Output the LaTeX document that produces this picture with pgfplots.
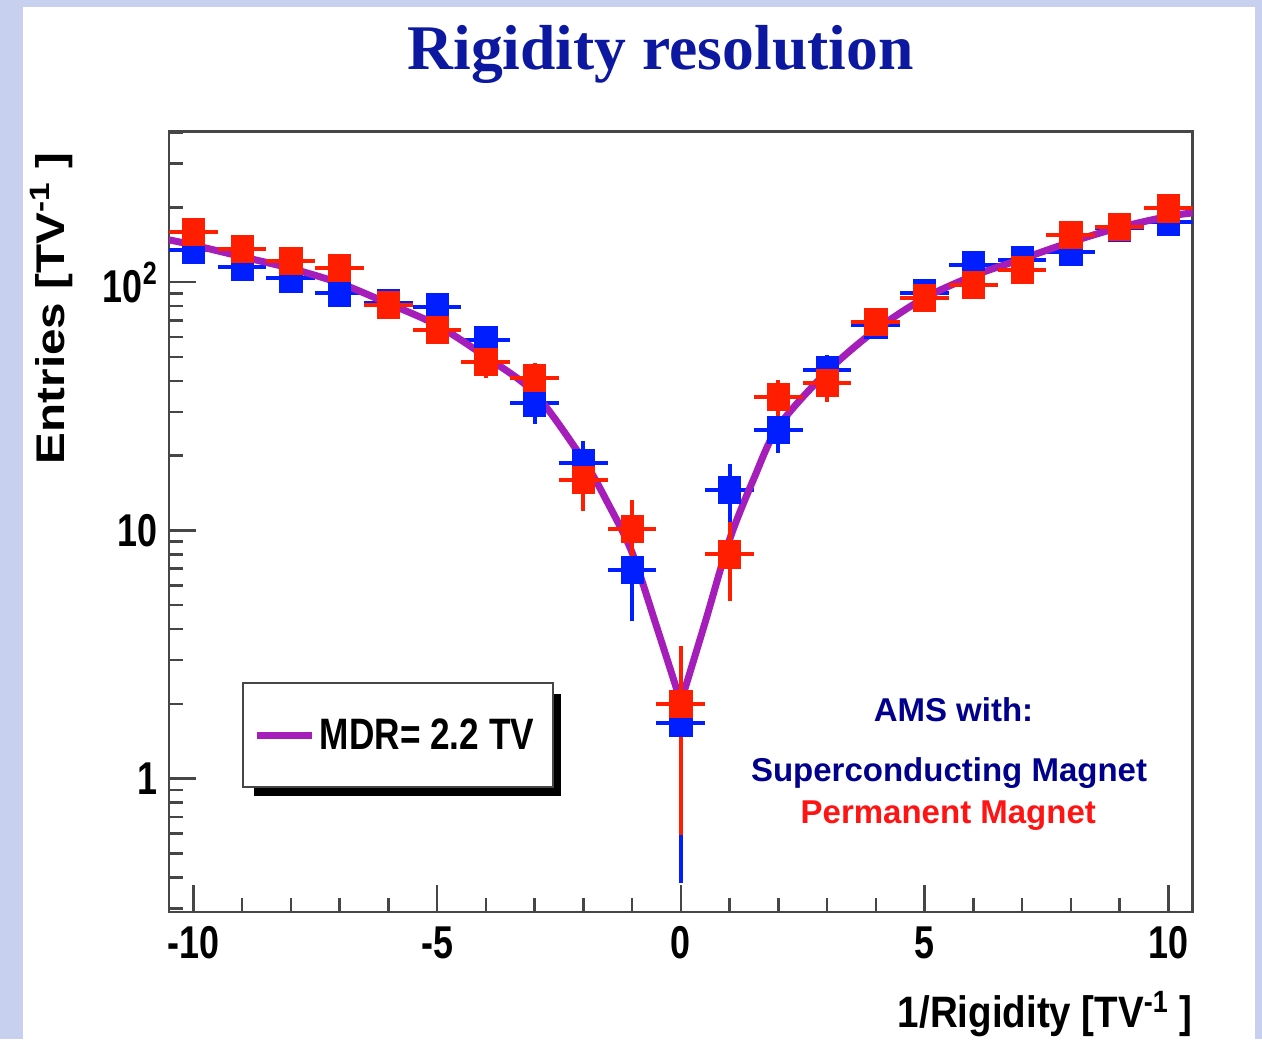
\documentclass[border=0pt]{standalone}
\usepackage{fontspec}
\setmainfont{Liberation Sans}
\newfontfamily\seriffont{Liberation Serif}
\usepackage{graphicx}
\usepackage{pgfplots}
\usepackage{pgfplotstable}
\pgfplotsset{compat=1.18}
\definecolor{bgblue}{RGB}{200,208,240}
\definecolor{titleblue}{RGB}{12,24,160}
\definecolor{amsblue}{RGB}{0,0,140}
\definecolor{amsred}{RGB}{255,20,20}
\definecolor{dblue}{RGB}{0,30,255}
\definecolor{dred}{RGB}{255,30,0}
\definecolor{fitpurple}{RGB}{165,30,185}
\definecolor{axgray}{RGB}{70,70,70}
\newcommand{\tl}[1]{\scalebox{0.78}[1]{\fontsize{23pt}{23pt}\selectfont\bfseries #1}}

\pgfplotstableread{
x y e
-10 134.6 11.6
-9 115.3 10.7
-8 103.5 10.2
-7 90.2 9.5
-6 82 9.1
-5 79.6 8.9
-4 58.5 7.6
-3 32.5 5.7
-2 18.7 4.3
-1 6.95 2.64
0 1.68 1.3
1 14.6 3.82
2 25.4 5.0
3 44.3 6.7
4 67 8.2
5 90 9.5
6 117 10.8
7 122.7 11.1
8 132.5 11.5
9 165 12.8
10 175 13.2
}\bluedata

\pgfplotstableread{
x y e
-10 159 12.6
-9 136 11.7
-8 122 11.0
-7 114 10.7
-6 81 9.0
-5 64.2 8.0
-4 47.8 6.9
-3 41.0 6.4
-2 16.0 4.0
-1 10.1 3.2
0 2.0 1.41
1 8.0 2.83
2 34.6 5.9
3 39.2 6.3
4 69.3 8.3
5 86.5 9.3
6 97.3 9.9
7 112 10.6
8 155 12.4
9 167 12.9
10 198 14.1
}\reddata

\begin{document}
\begin{tikzpicture}
\begin{scope}[x=0.5pt,y=-0.5pt]
\fill[bgblue] (0,0) rectangle (1262,1039);
\fill[white] (22.7,7.3) rectangle (1255,1039);
% legend frame with ROOT-style shadow
\fill[black] (254,694) rectangle (560.5,796);
\filldraw[fill=white, draw=axgray, line width=1pt] (243.3,683.3) rectangle (552.7,786.7);
\end{scope}
\begin{axis}[
  at={(84.5pt,-456pt)}, anchor=south west,
  scale only axis, width=511.85pt, height=390.35pt,
  ymode=log, xmin=-10.5, xmax=10.5, ymin=0.29, ymax=405,
  axis line style={axgray, line width=1.3pt},
  tick style={axgray, line width=1.3pt},
  tick align=inside, xtick pos=left, ytick pos=left,
  major tick length=13.5pt, minor tick length=7pt,
  xtick={-10,-5,0,5,10},
  xticklabels={\tl{-10},\tl{-5},\tl{0},\tl{5},\tl{10}},
  minor xtick={-9,-8,-7,-6,-4,-3,-2,-1,1,2,3,4,6,7,8,9},
  ytick={1,10,100},
  yticklabels={\tl{1},\tl{10},\tl{10\textsuperscript{2}}},
  minor ytick={0.3,0.4,0.5,0.6,0.7,0.8,0.9,2,3,4,5,6,7,8,9,20,30,40,50,60,70,80,90,200,300,400},
  xticklabel style={anchor=north, inner sep=0pt, yshift=-7pt},
  yticklabel style={anchor=east, inner sep=0pt, xshift=-5.5pt},
  xlabel={\scalebox{0.875}[1]{\fontsize{22pt}{22pt}\selectfont\bfseries 1/Rigidity [TV\textsuperscript{-1} ]}},
  ylabel={\scalebox{1.19}[1]{\fontsize{20pt}{20pt}\selectfont\bfseries Entries [TV\textsuperscript{-1} ]}},
  xlabel style={at={(axis description cs:1,-0.148)}, anchor=base east, inner sep=0pt},
  ylabel style={at={(axis description cs:-0.1016,0.773)}, anchor=base, inner sep=0pt},
  legend style={at={(rel axis cs:0.0825,0.2255)}, anchor=west, draw=none, fill=none,
    inner sep=0pt, nodes={inner sep=0pt}},
  legend image code/.code={\draw[#1, line cap=butt] (0pt,0pt) -- (27.5pt,0pt);},
]
\addplot[dblue, only marks, mark=square*, mark size=6.8pt, mark options={xscale=0.82, dblue}, forget plot,
  error bars/.cd, y dir=both, y explicit, x dir=both, x fixed=0.5, error mark=none,
  error bar style={line width=2pt, dblue}] table[x=x,y=y,y error=e]{\bluedata};
\addplot[fitpurple, line width=3.5pt, smooth, no markers, line cap=round, line join=round] coordinates {
(-10.5,148) (-10,141) (-9,126.5) (-8,113.5) (-7,99) (-6,82) (-5,67) (-4,50) (-3,35.7) (-2,19.2) (-1.5,12.9) (-1,8.13) (-0.5,4.11) (0,2.03)};
\addlegendentry{\hspace*{2pt}\scalebox{0.80}[1]{\fontsize{22pt}{22pt}\selectfont\bfseries MDR= 2.2 TV}}
\addplot[fitpurple, line width=3.5pt, smooth, no markers, line cap=round, line join=round, forget plot] coordinates {
(0,2.03) (0.5,4.27) (1,9.18) (1.5,16.2) (2,26.2) (3,43.6) (4,64.2) (5,86.3) (6,106) (7,124) (8,145) (9,166) (10,184) (10.5,190)};
\addplot[dred, only marks, mark=square*, mark size=6.8pt, mark options={xscale=0.82, dred}, forget plot,
  error bars/.cd, y dir=both, y explicit, x dir=both, x fixed=0.5, error mark=none,
  error bar style={line width=2pt, dred}] table[x=x,y=y,y error=e]{\reddata};
\end{axis}
\begin{scope}[x=0.5pt,y=-0.5pt]
\node[anchor=base, inner sep=0pt, text=titleblue, font=\seriffont\bfseries\fontsize{31.8pt}{32pt}\selectfont] at (660.5,69) {Rigidity resolution};
\node[anchor=base, inner sep=0pt, text=amsblue, font=\bfseries\fontsize{16.5pt}{17pt}\selectfont] at (953.5,721.7) {AMS with:};
\node[anchor=base, inner sep=0pt, text=amsblue, font=\bfseries\fontsize{16.5pt}{17pt}\selectfont] at (949,781.7) {Superconducting Magnet};
\node[anchor=base, inner sep=0pt, text=amsred, font=\bfseries\fontsize{16.5pt}{17pt}\selectfont] at (948.3,823.3) {Permanent Magnet};
\end{scope}
\pgfresetboundingbox
\useasboundingbox (0,0) rectangle (631pt,-519.5pt);
\end{tikzpicture}
\end{document}
